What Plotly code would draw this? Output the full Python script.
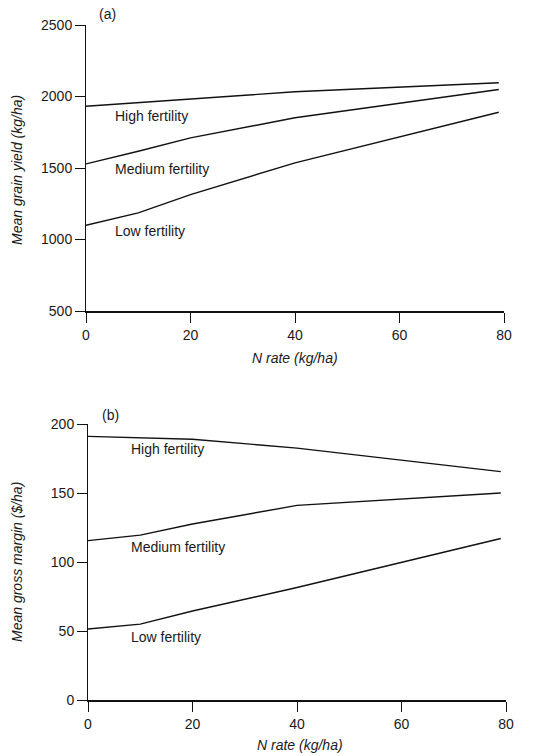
import plotly.graph_objects as go

# ---- data ----
n_rate = [0, 10, 20, 40, 79]

yield_high = [1932, 1958, 1984, 2033, 2096]
yield_medium = [1529, 1617, 1711, 1851, 2049]
yield_low = [1099, 1186, 1314, 1536, 1890]

margin_high = [191, 190, 189, 182.5, 165.5]
margin_medium = [115.5, 119.5, 127.5, 141, 150]
margin_low = [51.5, 55, 64.5, 81.5, 117]

x_ticks = [0, 20, 40, 60, 80]
yield_ticks = [500, 1000, 1500, 2000, 2500]
margin_ticks = [0, 50, 100, 150, 200]

series_labels = ["High fertility", "Medium fertility", "Low fertility"]

FONT = "Liberation Sans, Arial, Helvetica, sans-serif"
INK = "#111111"
W, H = 552, 756

fig = go.Figure()

for ys in (yield_high, yield_medium, yield_low):
    fig.add_trace(go.Scatter(x=n_rate, y=ys, mode="lines", xaxis="x", yaxis="y",
                             line=dict(color=INK, width=1.4), showlegend=False,
                             hoverinfo="skip"))
for ys in (margin_high, margin_medium, margin_low):
    fig.add_trace(go.Scatter(x=n_rate, y=ys, mode="lines", xaxis="x2", yaxis="y2",
                             line=dict(color=INK, width=1.4), showlegend=False,
                             hoverinfo="skip"))

axis_common = dict(showline=True, linecolor=INK, ticks="outside", ticklen=10,
                   tickcolor=INK, tickwidth=1, showgrid=False, zeroline=False,
                   tickfont=dict(family=FONT, size=14, color="#1a1a1a"),
                   automargin=False, fixedrange=True)

fig.update_layout(
    width=W, height=H,
    margin=dict(l=0, r=0, t=0, b=0),
    paper_bgcolor="white", plot_bgcolor="white",
    font=dict(family=FONT, size=14, color="#1a1a1a"),
    xaxis=dict(domain=[86 / W, 504 / W], range=[0, 80], tickvals=x_ticks,
               anchor="y", linewidth=1.6, **axis_common),
    yaxis=dict(domain=[1 - 311 / H, 1 - 25 / H], range=[500, 2500], tickvals=yield_ticks,
               anchor="x", linewidth=1, **axis_common),
    xaxis2=dict(domain=[88 / W, 506 / W], range=[0, 80], tickvals=x_ticks,
                anchor="y2", linewidth=1.6, **axis_common),
    yaxis2=dict(domain=[1 - 700 / H, 1 - 424 / H], range=[0, 200], tickvals=margin_ticks,
                anchor="x2", linewidth=1, **axis_common),
)

ann = []
# series labels panel (a)
for txt, yv in zip(series_labels, [1867, 1496, 1057]):
    ann.append(dict(text=txt, x=5.2, y=yv, xref="x", yref="y", xanchor="left",
                    yanchor="middle", showarrow=False, font=dict(size=14)))
# series labels panel (b)
for txt, yv in zip(series_labels, [182, 110.6, 46]):
    ann.append(dict(text=txt, x=7.8, y=yv, xref="x2", yref="y2", xanchor="left",
                    yanchor="middle", showarrow=False, font=dict(size=14)))
# panel letters
ann.append(dict(text="(a)", x=97 / W, y=1 - 14 / H, xref="paper", yref="paper",
                xanchor="left", yanchor="middle", showarrow=False, font=dict(size=14)))
ann.append(dict(text="(b)", x=100 / W, y=1 - 415 / H, xref="paper", yref="paper",
                xanchor="left", yanchor="middle", showarrow=False, font=dict(size=14)))
# axis titles
ann.append(dict(text="<i>Mean grain yield (kg/ha)</i>", x=17 / W, y=1 - 170 / H,
                xref="paper", yref="paper", textangle=-90, xanchor="center",
                yanchor="middle", showarrow=False, font=dict(size=14)))
ann.append(dict(text="<i>N rate (kg/ha)</i>", x=295 / W, y=1 - 358 / H,
                xref="paper", yref="paper", xanchor="center", yanchor="middle",
                showarrow=False, font=dict(size=14)))
ann.append(dict(text="<i>Mean gross margin ($/ha)</i>", x=17 / W, y=1 - 562 / H,
                xref="paper", yref="paper", textangle=-90, xanchor="center",
                yanchor="middle", showarrow=False, font=dict(size=14)))
ann.append(dict(text="<i>N rate (kg/ha)</i>", x=300 / W, y=1 - 745 / H,
                xref="paper", yref="paper", xanchor="center", yanchor="middle",
                showarrow=False, font=dict(size=14)))

fig.update_layout(annotations=ann)

fig.write_html("out.html", config={"displayModeBar": False})
